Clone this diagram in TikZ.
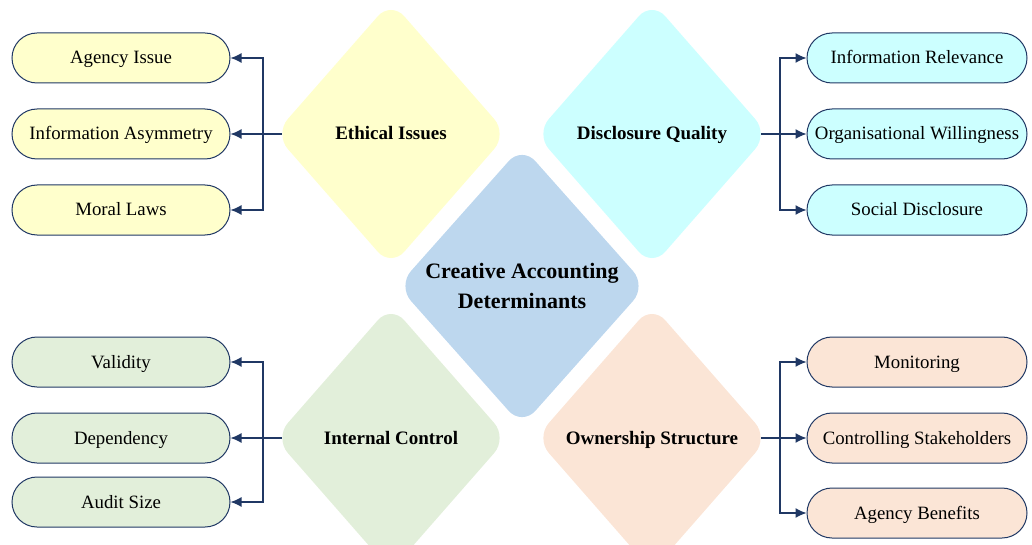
\documentclass[tikz,border=0pt]{standalone}
\usepackage{fontspec}
\setmainfont{Liberation Serif}
\usepackage{xcolor}
\usetikzlibrary{shapes.geometric,arrows.meta,positioning}

\definecolor{navy}{HTML}{203864}
\definecolor{lemon}{HTML}{FFFFCC}
\definecolor{aqua}{HTML}{CCFFFF}
\definecolor{sky}{HTML}{BDD7EE}
\definecolor{sage}{HTML}{E2EFDA}
\definecolor{peach}{HTML}{FBE5D6}

\begin{document}
\begin{tikzpicture}[x=0.5pt,y=-0.5pt,>={Latex[length=5.5pt,width=5pt]},
  pill/.style={draw=navy,line width=0.5pt,rounded corners=12.5pt,minimum width=109pt,minimum height=25pt,inner sep=0pt,text height=7pt,text depth=1pt,font=\fontsize{9.4}{11}\selectfont},
  dia/.style={diamond,rounded corners=10pt,minimum width=116.5pt,minimum height=133pt,inner sep=0pt,font=\fontsize{9.5}{11}\selectfont\bfseries},
  link/.style={navy,line width=0.65pt,->,shorten <=-3.75pt}]

\clip (0,0) rectangle (1032,545);

% diamonds
\node[dia,fill=lemon,text height=7pt,text depth=1pt] (eth) at (391,134) {Ethical Issues};
\node[dia,fill=aqua,text height=7pt,text depth=1pt] (disc) at (652,134) {Disclosure Quality};
\node[dia,fill=sage,text height=7pt,text depth=1pt] (ctrl) at (391,438) {Internal Control};
\node[dia,fill=peach,text height=7pt,text depth=1pt] (own) at (652,438) {Ownership Structure};
\node[dia,fill=sky,minimum width=124.5pt,minimum height=140pt,align=center,font=\fontsize{11}{15}\selectfont\bfseries] (core) at (522,286) {Creative Accounting\\Determinants};

% left boxes
\node[pill,fill=lemon] (agency) at (121,58) {Agency Issue};
\node[pill,fill=lemon] (asym) at (121,134) {Information Asymmetry};
\node[pill,fill=lemon] (moral) at (121,210) {Moral Laws};
\node[pill,fill=sage] (valid) at (121,362) {Validity};
\node[pill,fill=sage] (depend) at (121,438) {Dependency};
\node[pill,fill=sage] (audit) at (121,502) {Audit Size};

% right boxes
\node[pill,fill=aqua,minimum width=110pt] (relev) at (917,58) {Information Relevance};
\node[pill,fill=aqua,minimum width=110pt] (willing) at (917,134) {Organisational Willingness};
\node[pill,fill=aqua,minimum width=110pt] (social) at (917,210) {Social Disclosure};
\node[pill,fill=peach,minimum width=110pt] (monit) at (917,362) {Monitoring};
\node[pill,fill=peach,minimum width=110pt] (stake) at (917,438) {Controlling Stakeholders};
\node[pill,fill=peach,minimum width=110pt] (benef) at (917,513) {Agency Benefits};

\path
  (263,134) coordinate (lbusT)
  (263,438) coordinate (lbusB)
  (780,134) coordinate (rbusT)
  (780,438) coordinate (rbusB);

\draw[link] (eth.west) -- (lbusT) |- (agency.east);
\draw[link] (eth.west) -- (lbusT) |- (asym.east);
\draw[link] (eth.west) -- (lbusT) |- (moral.east);

\draw[link] (ctrl.west) -- (lbusB) |- (valid.east);
\draw[link] (ctrl.west) -- (lbusB) |- (depend.east);
\draw[link] (ctrl.west) -- (lbusB) |- (audit.east);

\draw[link] (disc.east) -- (rbusT) |- (relev.west);
\draw[link] (disc.east) -- (rbusT) |- (willing.west);
\draw[link] (disc.east) -- (rbusT) |- (social.west);

\draw[link] (own.east) -- (rbusB) |- (monit.west);
\draw[link] (own.east) -- (rbusB) |- (stake.west);
\draw[link] (own.east) -- (rbusB) |- (benef.west);

\end{tikzpicture}
\end{document}
